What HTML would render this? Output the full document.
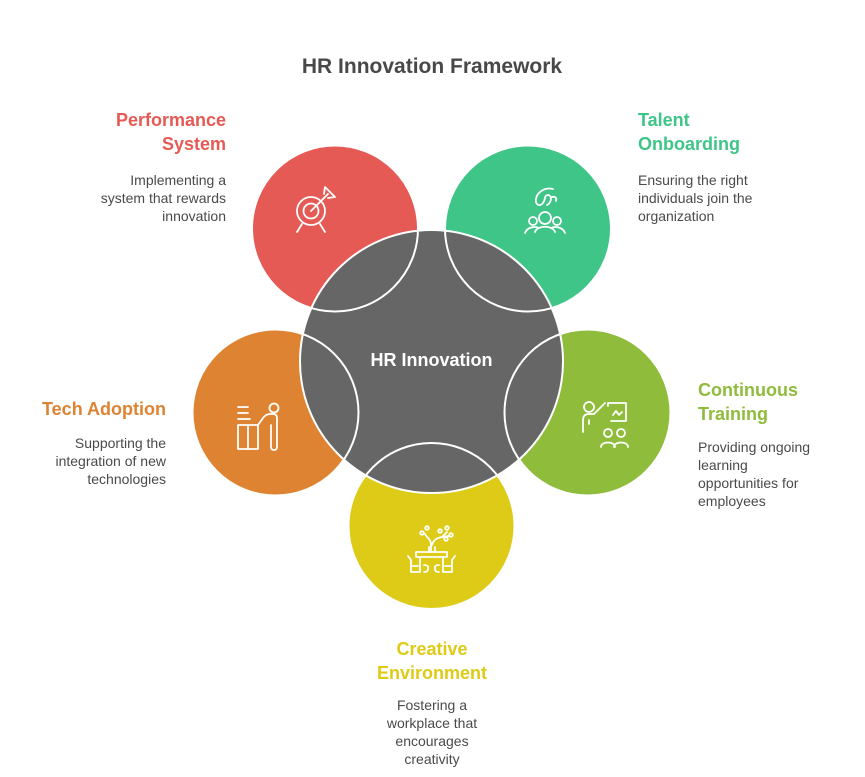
<!DOCTYPE html>
<html>
<head>
<meta charset="utf-8">
<style>
  html,body{margin:0;padding:0;background:#fff;}
  svg{display:block;}
  text{font-family:"Liberation Sans",Arial,sans-serif;}
</style>
</head>
<body>
<svg width="865" height="777" viewBox="0 0 865 777" xmlns="http://www.w3.org/2000/svg">
<rect width="865" height="777" fill="#ffffff"/>
<text x="432" y="73" text-anchor="middle" font-size="21" font-weight="bold" fill="#484848">HR Innovation Framework</text>
<circle cx="335" cy="228.5" r="83" fill="#E55A54"/>
<circle cx="528" cy="228.5" r="83" fill="#3EC587"/>
<circle cx="587.5" cy="412.5" r="83" fill="#8FBC3B"/>
<circle cx="431.5" cy="526" r="83" fill="#DDCB17"/>
<circle cx="275.5" cy="412.5" r="83" fill="#DE8331"/>
<circle cx="431.5" cy="361.5" r="131.5" fill="#666666" stroke="#ffffff" stroke-width="2"/>
<g fill="none" stroke="#ffffff" stroke-width="2">
<circle cx="335" cy="228.5" r="83"/>
<circle cx="528" cy="228.5" r="83"/>
<circle cx="587.5" cy="412.5" r="83"/>
<circle cx="431.5" cy="526" r="83"/>
<circle cx="275.5" cy="412.5" r="83"/>
</g>
<text x="431.5" y="366" text-anchor="middle" font-size="18" font-weight="bold" fill="#ffffff">HR Innovation</text>
<g fill="none" stroke="#ffffff" stroke-width="1.8" stroke-linecap="round" stroke-linejoin="round">
<circle cx="311" cy="211" r="14"/>
<circle cx="311" cy="211" r="7.5"/>
<line x1="311" y1="211" x2="328" y2="194"/>
<path d="M324 194 L325 187 L330 192"/>
<path d="M328 198 L335 197 L330 192"/>
<line x1="302" y1="224" x2="297" y2="232"/>
<line x1="320" y1="224" x2="325" y2="232"/>
<path d="M553 189 C545 187 537 192 536 199 C535 205 540 207 543 203 C546 199 544 195 548 195 C553 196 551 203 547 205"/>
<path d="M552 197 C555 196 557 198 556 201"/>
<circle cx="545" cy="218" r="6"/>
<circle cx="533" cy="221" r="4"/>
<circle cx="557" cy="221" r="4"/>
<path d="M535 232 C537 225 553 225 555 232"/>
<path d="M525 233 C527 227 535 226 539 228"/>
<path d="M565 233 C563 227 555 226 551 228"/>
<line x1="238" y1="407" x2="248" y2="407"/>
<line x1="238" y1="413" x2="248" y2="413"/>
<line x1="238" y1="419" x2="250" y2="419"/>
<rect x="238" y="425" width="20" height="24"/>
<line x1="248" y1="425" x2="248" y2="449"/>
<circle cx="274" cy="408" r="4.5"/>
<path d="M258 425 L263 418 Q266 414 270 414 L273 414 Q277 414 277 418 L277 447 Q277 450 274 450 Q271 450 271 447 L271 425"/>
<circle cx="589" cy="407" r="5"/>
<path d="M583 432 L583 420 Q583 414 589 414 L594 414 L605 403"/>
<line x1="589" y1="420" x2="589" y2="424"/>
<path d="M608 406 L608 403 L626 403 L626 421 L611 421"/>
<path d="M613 415 L616 411 L619 415 L622 412"/>
<circle cx="608" cy="433" r="4"/>
<circle cx="621" cy="433" r="4"/>
<path d="M601 447 C601 441 615 441 615 447"/>
<path d="M614 447 C614 441 628 441 628 447"/>
<circle cx="422" cy="533" r="1.8"/>
<circle cx="427" cy="528" r="1.8"/>
<circle cx="440" cy="531" r="1.8"/>
<circle cx="447" cy="528" r="1.8"/>
<circle cx="451" cy="535" r="1.8"/>
<circle cx="446" cy="539" r="1.8"/>
<path d="M431 552 L431 545 Q431 540 427 537 L425 534"/>
<path d="M432 545 Q434 538 442 537 L447 532"/>
<path d="M442 537 L449 536"/>
<path d="M429 552 L429 547 M435 552 L435 547"/>
<rect x="416" y="552" width="31" height="5"/>
<path d="M420 557 L420 572 M443 557 L443 572"/>
<path d="M408 556 L411 560 L411 572 L419 572 M411 566 L418 566"/>
<path d="M455 556 L452 560 L452 572 L444 572 M452 566 L445 566"/>
<path d="M424 565 Q429 565 428 569 Q428 572 424 572"/>
<path d="M439 565 Q434 565 435 569 Q435 572 439 572"/>
</g>
<g font-size="18" font-weight="bold">
<text x="226" y="126" text-anchor="end" fill="#E55A54">Performance</text>
<text x="226" y="150" text-anchor="end" fill="#E55A54">System</text>
<text x="638" y="126" fill="#3EC587">Talent</text>
<text x="638" y="150" fill="#3EC587">Onboarding</text>
<text x="166" y="415" text-anchor="end" fill="#DE8331">Tech Adoption</text>
<text x="698" y="396" fill="#8FBC3B">Continuous</text>
<text x="698" y="420" fill="#8FBC3B">Training</text>
<text x="432" y="655" text-anchor="middle" fill="#DDCB17">Creative</text>
<text x="432" y="679" text-anchor="middle" fill="#DDCB17">Environment</text>
</g>
<g font-size="14" fill="#4A4A4A">
<text x="226" y="185" text-anchor="end">Implementing a</text>
<text x="226" y="203" text-anchor="end">system that rewards</text>
<text x="226" y="221" text-anchor="end">innovation</text>
<text x="638" y="185">Ensuring the right</text>
<text x="638" y="203">individuals join the</text>
<text x="638" y="221">organization</text>
<text x="166" y="448" text-anchor="end">Supporting the</text>
<text x="166" y="466" text-anchor="end">integration of new</text>
<text x="166" y="484" text-anchor="end">technologies</text>
<text x="698" y="452">Providing ongoing</text>
<text x="698" y="470">learning</text>
<text x="698" y="488">opportunities for</text>
<text x="698" y="506">employees</text>
<text x="432" y="710" text-anchor="middle">Fostering a</text>
<text x="432" y="728" text-anchor="middle">workplace that</text>
<text x="432" y="746" text-anchor="middle">encourages</text>
<text x="432" y="764" text-anchor="middle">creativity</text>
</g>
</svg>
</body>
</html>
